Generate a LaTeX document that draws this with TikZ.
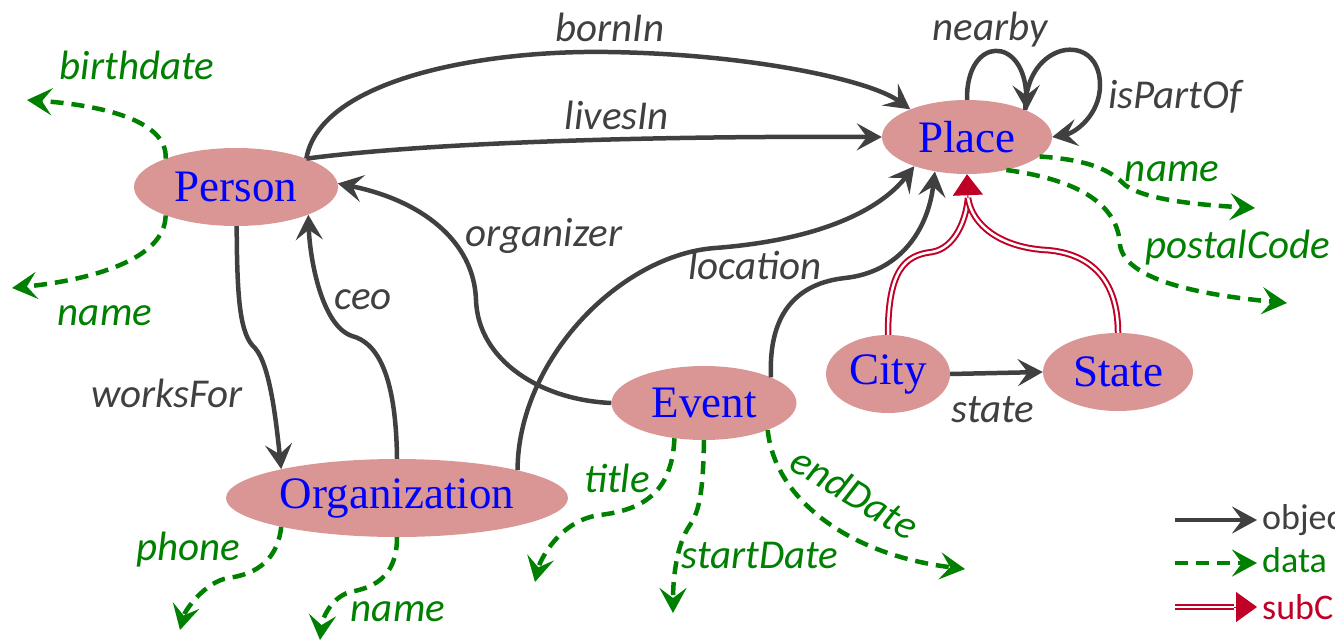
\documentclass[tikz,border=0pt]{standalone}
\usepackage{fontspec}
\usetikzlibrary{arrows.meta,shapes.geometric}
\newfontfamily\lblfont{Carlito}
\newfontfamily\clsfont{Liberation Serif}
\definecolor{objgray}{HTML}{404040}
\definecolor{datagreen}{HTML}{008000}
\definecolor{subred}{HTML}{C00027}
\definecolor{clsfill}{HTML}{D99694}
\begin{document}
\begin{tikzpicture}[x=1pt,y=-1pt,
  cls/.style={ellipse, fill=clsfill, inner sep=0pt, text=blue,
    font=\clsfont\fontsize{45}{52}\selectfont},
  objedge/.style={draw=objgray, line width=4.5pt,
    -{Stealth[length=25pt,width=27pt,inset=10pt]}},
  dataedge/.style={draw=datagreen, line width=4.5pt, dash pattern=on 13pt off 8pt,
    -{Stealth[length=25pt,width=27pt,inset=10pt]}},
  subedge/.style={draw=subred, line width=2pt, double=white, double distance=2.5pt},
  subhead/.style={draw=subred, fill=subred, line width=1pt,
    -{Triangle[length=21pt,width=30pt]}},
  objlbl/.style={text=objgray, inner sep=0pt,
    font=\lblfont\itshape\fontsize{41}{48}\selectfont},
  datalbl/.style={text=datagreen, inner sep=0pt,
    font=\lblfont\itshape\fontsize{41}{48}\selectfont},
  legtext/.style={anchor=west, inner sep=0pt,
    font=\lblfont\fontsize{36}{42}\selectfont}
]
\clip (0,0) rectangle (1335,643);

% classes
\node[cls, minimum width=204pt, minimum height=78pt] (person) at (236,187) {Person};
\node[cls, minimum width=170pt, minimum height=74pt] (place)  at (967,137) {Place};
\node[cls, minimum width=185pt, minimum height=74pt] (event)  at (704,403) {Event};
\node[cls, minimum width=124pt, minimum height=78pt] (city)   at (888,374) {City};
\node[cls, minimum width=150pt, minimum height=78pt] (state)  at (1118,372) {State};
\node[cls, minimum width=342pt, minimum height=78pt] (org)    at (397,498) {Organization};

% object properties
\draw[objedge] (person.22) .. controls (320,80) and (480,50) .. (608,52)
  .. controls (750,54) and (870,80) .. (place.154);
\draw[objedge] (person.22) .. controls (450,140) and (700,136) .. (place.180);
\draw[objedge] (event.180) .. controls (540,400) and (478,360) .. (476,300)
  .. controls (474,240) and (420,200) .. (person.2);
\draw[objedge] (org.90) .. controls (396,370) and (375,342) .. (352,336)
  .. controls (322,326) and (310,260) .. (person.-21);
\draw[objedge] (person.-89) .. controls (237,300) and (240,335) .. (255,348)
  .. controls (270,365) and (276,420) .. (org.166);
\draw[objedge] (org.13) .. controls (518,360) and (620,255) .. (715,248)
  .. controls (820,240) and (880,210) .. (place.209);
\draw[objedge] (event.21) .. controls (768,310) and (800,283) .. (845,278)
  .. controls (900,272) and (928,230) .. (place.227);
\draw[objedge] (place.90) .. controls (966,35) and (1025,35) .. (place.24);
\draw[objedge] (place.25) .. controls (1025,40) and (1100,30) .. (1100,85)
  .. controls (1100,115) and (1075,133) .. (place.0);
\draw[objedge] (city.0) -- (state.180);

% data properties
\coordinate (pbirth) at (27,100);
\coordinate (pname) at (12,288);
\coordinate (ophone) at (180,630);
\coordinate (oname) at (320,640);
\coordinate (etitle) at (535,582);
\coordinate (estart) at (673,613);
\coordinate (eend) at (965,569);
\coordinate (plname) at (1255,208);
\coordinate (plcode) at (1287,303);
\draw[dataedge] (person.158) .. controls (168,120) and (100,105) .. (pbirth);
\draw[dataedge] (person.202) .. controls (165,260) and (90,280) .. (pname);
\draw[dataedge] (org.194) .. controls (277,565) and (250,575) .. (228,578)
  .. controls (205,582) and (185,610) .. (ophone);
\draw[dataedge] (org.-90) .. controls (397,580) and (370,588) .. (350,592)
  .. controls (330,598) and (322,620) .. (oname);
\draw[dataedge] (event.230) .. controls (672,495) and (640,510) .. (600,515)
  .. controls (560,520) and (540,560) .. (etitle);
\draw[dataedge] (event.-90) .. controls (703,490) and (700,510) .. (690,525)
  .. controls (676,545) and (673,580) .. (estart);
\draw[dataedge] (event.-23) .. controls (775,500) and (850,555) .. (eend);
\draw[dataedge] (place.-15) .. controls (1090,160) and (1110,170) .. (1125,185)
  .. controls (1145,200) and (1200,205) .. (plname);
\draw[dataedge] (place.-40) .. controls (1080,180) and (1118,205) .. (1120,245)
  .. controls (1125,280) and (1200,295) .. (plcode);

% subclass links
\coordinate (subtip) at (968,198);
\draw[subedge] (city.90) .. controls (888,270) and (905,255) .. (932,252)
  .. controls (955,248) and (966,220) .. (subtip);
\draw[subedge] (state.90) .. controls (1118,270) and (1080,252) .. (1045,250)
  .. controls (1000,247) and (972,225) .. (subtip);
\draw[subhead] (subtip) -- (place.-90);

% property labels
\node[objlbl] (lborn) at (610,27) {bornIn};
\node[objlbl] (llives) at (617,115) {livesIn};
\node[objlbl] (lnear) at (990,30) {nearby};
\node[objlbl] (lpart) at (1175,97) {isPartOf};
\node[objlbl] (lworks) at (167,393) {worksFor};
\node[objlbl] (lceo) at (363,300) {ceo};
\node[objlbl] (lorg) at (544,236) {organizer};
\node[objlbl] (lloc) at (755,265) {location};
\node[objlbl] (lstate) at (993,410) {state};
\node[datalbl] (lbirth) at (137,65) {birthdate};
\node[datalbl] (lpname) at (105,316) {name};
\node[datalbl] (lphone) at (188,550) {phone};
\node[datalbl] (loname) at (398,612) {name};
\node[datalbl] (ltitle) at (617,478) {title};
\node[datalbl] (lstart) at (760,555) {startDate};
\node[datalbl, rotate=-31] (lend) at (855,493) {endDate};
\node[datalbl] (lplname) at (1172,172) {name};
\node[datalbl] (lcode) at (1238,248) {postalCode};

% legend
\coordinate (lg1a) at (1175,520); \coordinate (lg1b) at (1257,520);
\coordinate (lg2a) at (1175,563); \coordinate (lg2b) at (1257,563);
\coordinate (lg3a) at (1175,607); \coordinate (lg3m) at (1234,607);
\coordinate (lg3b) at (1257,607);
\draw[objedge] (lg1a) -- (lg1b);
\draw[dataedge] (lg2a) -- (lg2b);
\draw[subedge] (lg3a) -- (lg3m);
\draw[subhead] (lg3m) -- (lg3b);
\node[legtext, text=objgray] (lgt1) at (1262,520) {object property};
\node[legtext, text=datagreen] (lgt2) at (1262,563) {data property};
\node[legtext, text=subred] (lgt3) at (1262,607) {subClassOf};
\end{tikzpicture}
\end{document}
